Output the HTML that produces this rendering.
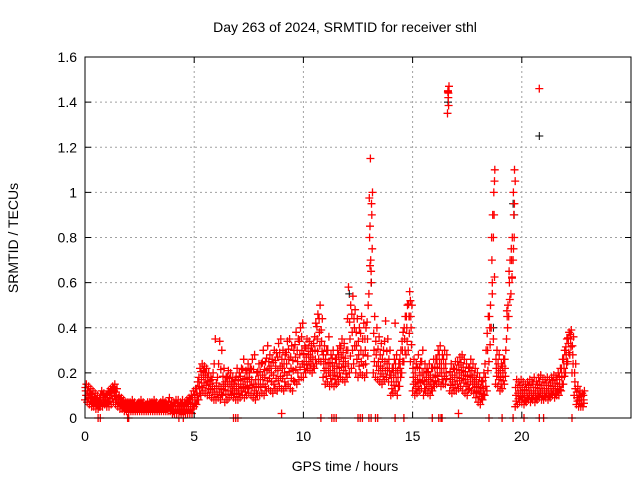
<!DOCTYPE html>
<html><head><meta charset="utf-8"><style>body{margin:0;background:#fff}svg{display:block;font-family:"Liberation Sans",sans-serif}</style></head>
<body>
<svg id="chart" width="640" height="480">
<rect width="640" height="480" fill="#fff"/>
<text x="345" y="32" text-anchor="middle" font-size="14">Day 263 of 2024, SRMTID for receiver sthl</text>
<text x="345" y="471" text-anchor="middle" font-size="14">GPS time / hours</text>
<text transform="translate(18,238) rotate(-90)" text-anchor="middle" font-size="14">SRMTID / TECUs</text>
<g id="grid"></g><g id="marks"></g><g id="axes"></g>
</svg>
<script>
const xTicks=[0,5,10,15,20];
const yTicks=[0,0.2,0.4,0.6,0.8,1,1.2,1.4,1.6];
const yTickLabels=["0","0.2","0.4","0.6","0.8","1","1.2","1.4","1.6"];
const binStart=0, binStep=0.1;
const lowV=[.08,.07,.06,.05,.05,.04,.04,.05,.05,.06, .05,.05,.06,.07,.06,.05,.04,.04,.03,.03,
.03,.03,.03,.03,.03,.03,.03,.03,.03,.03, .03,.03,.03,.03,.03,.03,.03,.03,.03,.03,
.02,.02,.02,.02,.02,.02,.02,.02,.02,.02, .05,.06,.08,.10,.12,.11,.10,.10,.09,.08,
.08,.09,.08,.10,.07,.08,.09,.10,.09,.08, .08,.09,.10,.09,.10,.11,.10,.09,.08,.10,
.10,.11,.10,.12,.13,.12,.11,.13,.12,.14, .13,.12,.14,.15,.13,.12,.16,.15,.17,.18,
.18,.20,.22,.21,.20,.22,.24,.26,.25,.18, .15,.16,.14,.15,.14,.15,.16,.18,.17,.16,
.18,.20,.22,.24,.20,.18,.20,.19,.18,.20, .55,.60,.20,.18,.17,.16,.15,.17,.18,.16,
.10,.11,.12,.10,.14,.20,.25,.28,.30,.25, .12,.10,.11,.12,.13,.10,.12,.11,.10,.12,
.14,.15,.16,.14,.15,.15,1.35,.12,.11,.12, .12,.13,.14,.12,.11,.10,.13,.12,.11,.09,
.07,.06,.08,.10,.12,.25,.40,.35,.15,.14, .12,.13,.15,.35,.45,.55,.70,.05,.06,.07,
.07,.06,.07,.08,.07,.08,.07,.08,.09,.08, .08,.09,.08,.09,.10,.09,.10,.10,.12,.15,
.20,.25,.28,.20,.10,.06,.05,.05,.05];
const midV=[.12,.10,.09,.09,.08,.07,.06,.08,.09,.08, .09,.10,.11,.12,.10,.08,.07,.06,.05,.05,
.05,.05,.05,.05,.05,.05,.05,.05,.05,.05, .05,.05,.05,.05,.05,.05,.05,.05,.06,.05,
.04,.05,.05,.04,.04,.04,.05,.05,.06,.06, .08,.10,.14,.17,.19,.18,.16,.15,.14,.13,
.13,.14,.13,.15,.14,.16,.15,.14,.13,.14, .13,.15,.17,.14,.16,.18,.17,.15,.14,.17,
.17,.19,.18,.21,.22,.20,.19,.22,.21,.23, .22,.20,.24,.26,.22,.21,.27,.25,.28,.30,
.25,.27,.28,.27,.26,.30,.35,.38,.34,.24, .22,.24,.21,.23,.20,.22,.24,.27,.25,.23,
.30,.35,.38,.40,.32,.28,.30,.28,.30,.35, .80,.90,.30,.28,.25,.23,.22,.25,.24,.22,
.16,.18,.20,.18,.22,.30,.35,.40,.45,.40, .18,.16,.17,.19,.20,.16,.18,.17,.16,.18,
.19,.22,.24,.20,.22,.20,1.42,.17,.16,.18, .18,.20,.21,.19,.17,.15,.19,.18,.16,.14,
.12,.11,.13,.18,.30,.40,.70,.90,.22,.20, .18,.20,.22,.45,.60,.70,.90,.10,.11,.12,
.11,.10,.11,.12,.11,.12,.11,.12,.13,.12, .12,.13,.12,.13,.14,.13,.14,.15,.18,.22,
.28,.33,.35,.28,.16,.09,.08,.08,.08];
const highV=[.15,.14,.13,.12,.11,.10,.09,.12,.11,.10, .12,.13,.14,.15,.13,.10,.09,.08,.07,.07,
.07,.08,.07,.06,.07,.08,.07,.06,.07,.07, .07,.08,.07,.06,.07,.08,.07,.06,.09,.07,
.07,.08,.08,.07,.08,.07,.08,.09,.10,.12, .13,.16,.22,.24,.23,.22,.20,.18,.20,.35,
.18,.34,.30,.22,.18,.21,.20,.18,.17,.22, .20,.22,.26,.21,.24,.22,.26,.28,.20,.24,
.24,.30,.25,.32,.28,.26,.30,.29,.33,.35, .30,.28,.34,.35,.32,.30,.38,.35,.40,.42,
.32,.35,.34,.32,.33,.42,.46,.50,.44,.32, .30,.36,.28,.30,.26,.30,.32,.35,.33,.30,
.58,.50,.54,.48,.44,.40,.45,.42,.40,.50, 1.15,1.00,.45,.40,.36,.33,.30,.43,.35,.30,
.22,.26,.28,.24,.30,.38,.45,.50,.56,.50, .26,.24,.28,.25,.30,.24,.22,.24,.22,.26,
.26,.30,.32,.28,.30,.28,1.47,.24,.22,.25, .25,.27,.28,.26,.24,.22,.26,.24,.22,.20,
.18,.16,.20,.30,.45,.50,.90,1.10,.30,.28, .24,.26,.30,.50,.70,.80,1.10,.17,.16,.17,
.16,.15,.16,.17,.16,.18,.16,.18,.19,.17, .17,.18,.17,.18,.19,.18,.20,.22,.26,.30,
.35,.38,.39,.36,.24,.14,.12,.11,.12];
const outT=[0.6,0.7,1.95,2.0,4.3,4.5,6.8,6.9,7.0,10.8,11.3,11.4,11.5,12.5,12.6,12.7,13.0,13.1,13.3,13.4,14.2,14.6,15.9,16.2,16.3,16.35,18.5,19.1,19.6,20.1,20.8,21.0,22.3,20.8,13.1,14.2,17.1,9.0,
13.05,13.08,13.12,13.1,16.62,16.64,18.65,18.7,18.72,18.75,19.55,19.62,19.66,19.7,14.85,14.9];
const outV=[0,0,0,0,0,0,0,0,0,0,0,0,0,0,0,0,0,0,0,0,0,0,0,0,0,0,0,0,0,0,1.46,0,0,0,0,0.42,0.02,0.02,
0.85,0.7,0.95,0.65,1.45,1.44,0.6,0.8,1.0,1.05,0.62,0.75,0.95,1.05,0.45,0.52];
const blackT=[16.6,16.62,20.8,13.12,19.65,19.6,18.7,12.1];
const blackV=[1.35,1.40,1.25,0.60,0.90,0.95,0.40,0.55];

const X0=85,X1=631,Y0=418,Y1=57;
const xs=t=>X0+t/25*(X1-X0);
const ys=v=>Y0-v/1.6*(Y0-Y1);
const NS="http://www.w3.org/2000/svg";
function mk(tag,attrs,parent){const e=document.createElementNS(NS,tag);for(const k in attrs)e.setAttribute(k,attrs[k]);parent.appendChild(e);return e;}
const grid=document.getElementById('grid'),marks=document.getElementById('marks'),axes=document.getElementById('axes');
xTicks.forEach((t,i)=>{
  if(t>0){const g=mk('line',{x1:xs(t),x2:xs(t),y1:Y0,y2:Y1,stroke:'#a0a0a0','stroke-dasharray':'2,3'},grid);
  
  }
  const tk=mk('path',{d:`M${xs(t)},${Y0}v-6M${xs(t)},${Y1}v6`,stroke:'#000'},axes);
  
  
  const l=mk('text',{x:xs(t),y:Y0+23,'text-anchor':'middle','font-size':14},axes);l.textContent=t;
  
  
});
yTicks.forEach((v,i)=>{
  if(v>0&&v<1.6){const g=mk('line',{x1:X0,x2:X1,y1:ys(v),y2:ys(v),stroke:'#a0a0a0','stroke-dasharray':'2,3'},grid);
  
  }
  const tk=mk('path',{d:`M${X0},${ys(v)}h6M${X1},${ys(v)}h-6`,stroke:'#000'},axes);
  
  
  const l=mk('text',{x:X0-8,y:ys(v)+5,'text-anchor':'end','font-size':14},axes);l.textContent=yTickLabels[i];
  
  
});
const frame=mk('rect',{x:X0,y:Y1,width:X1-X0,height:Y0-Y1,fill:'none',stroke:'#000'},axes);


let dB='',dR='';
const plus=(t,v)=>{const x=xs(t),y=ys(v);return `M${(x-4).toFixed(1)},${y.toFixed(1)}h8M${x.toFixed(1)},${(y-4).toFixed(1)}v8`;};
blackT.forEach((t,i)=>{dB+=plus(t,blackV[i]);});
lowV.forEach((v,i)=>{const t=binStart+i*binStep;
  dR+=plus(t,v)+plus(t+0.033,midV[i])+plus(t+0.066,highV[i])+plus(t+0.05,(lowV[i]+midV[i])/2)+plus(t+0.017,(midV[i]+highV[i])/2);});
outT.forEach((t,i)=>{dR+=plus(t,outV[i]);});
const bp=mk('path',{d:dB,stroke:'#000',fill:'none','stroke-width':1},marks);


const rp=mk('path',{d:dR,stroke:'#f00',fill:'none','stroke-width':1.3},marks);


</script>
</body></html>
